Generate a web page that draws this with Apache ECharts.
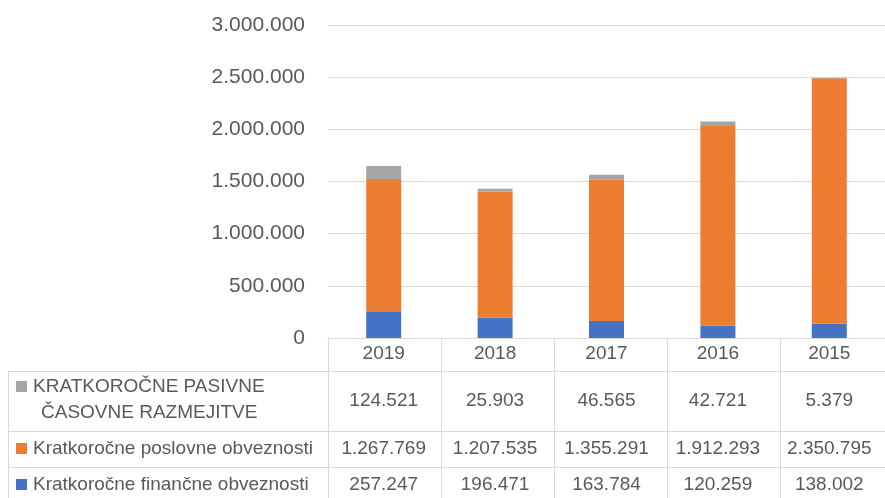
<!DOCTYPE html>
<html>
<head>
<meta charset="utf-8">
<script src="https://cdn.jsdelivr.net/npm/echarts@6/dist/echarts.min.js"></script>
<style>
  html, body { margin: 0; padding: 0; background: #fff; }
  #chart { width: 885px; height: 498px; }
</style>
</head>
<body>
<div id="chart"></div>
<script>
// podatki
const years = ["2019", "2018", "2017", "2016", "2015"];
const financne = [257247, 196471, 163784, 120259, 138002];
const poslovne = [1267769, 1207535, 1355291, 1912293, 2350795];
const pasivne = [124521, 25903, 46565, 42721, 5379];
const names = [
  "Kratkoročne finančne obveznosti",
  "Kratkoročne poslovne obveznosti",
  "KRATKOROČNE PASIVNE ČASOVNE RAZMEJITVE",
];
const colors = ["#4472C4", "#ED7D31", "#A5A5A5"];
const yMax = 3000000;
const yStep = 500000;

const FONT = "Liberation Sans";
const TXT = "#595959";
const LINE = "#d9d9d9";

function fmt(v) {
  return String(v).replace(/\B(?=(\d{3})+(?!\d))/g, ".");
}

const chart = echarts.init(document.getElementById("chart"));

const gridLeft = 328, gridTop = 25, gridW = 565, gridH = 313;

chart.setOption({
  animation: false,
  grid: { left: gridLeft, top: gridTop, width: gridW, height: gridH },
  xAxis: {
    type: "category",
    data: years,
    axisLine: { lineStyle: { color: LINE } },
    axisTick: { show: false },
    axisLabel: {
      color: TXT, fontFamily: FONT, fontSize: 19,
      lineHeight: 20, margin: 6,
    },
  },
  yAxis: {
    type: "value",
    min: 0,
    max: yMax,
    interval: yStep,
    axisLine: { show: false },
    axisTick: { show: false },
    splitLine: { lineStyle: { color: LINE, width: 1 } },
    axisLabel: {
      color: TXT, fontFamily: FONT, fontSize: 21, margin: 23,
      formatter: fmt,
    },
  },
  series: [
    { name: names[0], type: "bar", stack: "a", data: financne, barWidth: 35, itemStyle: { color: colors[0] } },
    { name: names[1], type: "bar", stack: "a", data: poslovne, barWidth: 35, itemStyle: { color: colors[1] } },
    { name: names[2], type: "bar", stack: "a", data: pasivne, barWidth: 35, itemStyle: { color: colors[2] } },
  ],
});

// tabela s podatki pod grafom
const rows = [
  { vals: pasivne, color: colors[2], label: ["KRATKOROČNE PASIVNE", "ČASOVNE RAZMEJITVE"] },
  { vals: poslovne, color: colors[1], label: [names[1]] },
  { vals: financne, color: colors[0], label: [names[0]] },
];
const rowTops = [371, 431, 467, 503];
const tableLeft = 8;
const colW = gridW / years.length;
const right = gridLeft + gridW;
const g = [];

function line(x1, y1, x2, y2) {
  g.push({ type: "line", shape: { x1, y1, x2, y2 }, style: { stroke: LINE, lineWidth: 1 }, silent: true });
}

// vodoravne črte
rowTops.forEach((y) => line(tableLeft, y + 0.5, right, y + 0.5));
// navpične črte
line(tableLeft + 0.5, rowTops[0], tableLeft + 0.5, rowTops[3]);
for (let i = 0; i <= years.length; i++) {
  const x = Math.round(gridLeft + i * colW) + 0.5;
  line(x, gridTop + gridH, x, rowTops[3]);
}

rows.forEach((r, ri) => {
  const cy = (rowTops[ri] + rowTops[ri + 1]) / 2;
  const ly = r.label.length > 1 ? rowTops[ri] + 16 : cy;
  g.push({ type: "rect", shape: { x: 16, y: ly - 6, width: 11, height: 11 }, style: { fill: r.color }, silent: true });
  r.label.forEach((t, li) => {
    g.push({
      type: "text", silent: true,
      style: {
        text: t, x: li === 0 ? 33 : 41, y: ly + li * 26,
        textAlign: "left", textVerticalAlign: "middle",
        font: "19px '" + FONT + "'", fill: TXT,
      },
    });
  });
  r.vals.forEach((v, i) => {
    const cx = chart.convertToPixel({ xAxisIndex: 0 }, i);
    g.push({
      type: "text", silent: true,
      style: {
        text: fmt(v), x: cx, y: cy,
        textAlign: "center", textVerticalAlign: "middle",
        font: "19px '" + FONT + "'", fill: TXT,
      },
    });
  });
});

chart.setOption({ graphic: g });
</script>
</body>
</html>
